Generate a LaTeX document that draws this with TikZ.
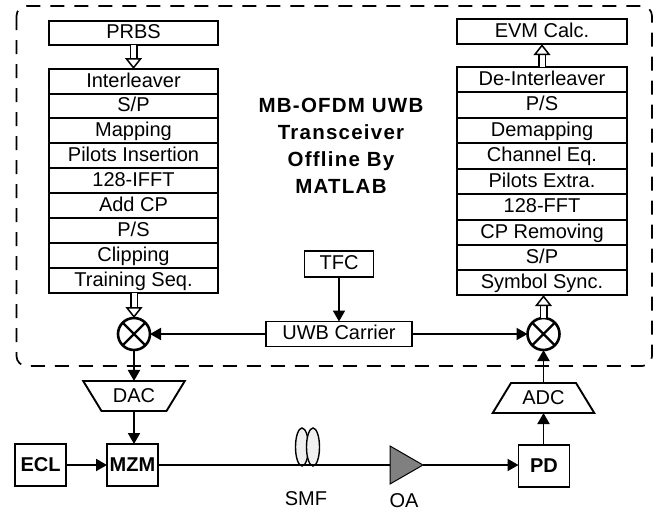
\documentclass[tikz,border=0pt]{standalone}
\usepackage{fontspec}
\setmainfont{Liberation Sans}
\newfontfamily\titlefont[LetterSpace=6,BoldFont={Liberation Sans Bold}]{Liberation Sans}
\usetikzlibrary{arrows.meta,shapes.geometric,calc}
\tikzset{
  x=1pt,y=-1pt,
  every node/.style={font=\fontsize{20}{22}\selectfont,inner sep=0pt,outer sep=0pt},
  box/.style={draw=black,line width=1.9pt,minimum width=#1,text height=14pt,text depth=3pt},
  lrow/.style={box=169pt,minimum height=25pt},
  rrow/.style={box=170pt,minimum height=25.4pt},
  bold box/.style={draw=black,line width=1.9pt,minimum width=51pt,minimum height=42pt,font=\fontsize{20}{22}\selectfont\bfseries},
  conv/.style={draw=black,line width=1.9pt,fill=white,trapezium,trapezium stretches=true,minimum width=102pt,minimum height=30pt,trapezium angle=50},
  mixer/.style={circle,draw=black,line width=2.6pt,minimum size=32pt,path picture={
    \draw[line width=2.4pt] (path picture bounding box.north west)--(path picture bounding box.south east)
      (path picture bounding box.north east)--(path picture bounding box.south west);}},
  wire/.style={line width=1.9pt,-{Triangle[length=11pt,width=12pt]}},
  hollow/.style={double,double distance=5pt,line width=1.5pt,-{Triangle[open,length=11pt,width=17pt,fill=white]}},
  fiber/.style={ellipse,draw=black,line width=1.4pt,fill=black!6,minimum width=13pt,minimum height=38pt},
}
\begin{document}
\begin{tikzpicture}
\useasboundingbox (0,0) rectangle (656,514);
\draw[line width=1.7pt,dash pattern=on 14pt off 10pt,rounded corners=10pt] (16.5,6) rectangle (652,366);
% left stack
\node[lrow,minimum height=24pt] (prbs) at (133.5,33) {PRBS};
\node[lrow] (il) at (133.5,81.5) {Interleaver};
\node[lrow] (sp) at (133.5,106) {S/P};
\node[lrow] (map) at (133.5,130.5) {Mapping};
\node[lrow] (pil) at (133.5,155.5) {Pilots Insertion};
\node[lrow] (ifft) at (133.5,180.5) {128-IFFT};
\node[lrow] (cp) at (133.5,205.5) {Add CP};
\node[lrow] (ps) at (133.5,230.5) {P/S};
\node[lrow] (clip) at (133.5,255.5) {Clipping};
\node[lrow] (train) at (133.5,280.5) {Training Seq.};
% right stack
\node[rrow] (evm) at (542,31.5) {EVM Calc.};
\node[rrow] (dil) at (542,79.5) {De-Interleaver};
\node[rrow] (rps) at (542,105) {P/S};
\node[rrow] (dem) at (542,130.5) {Demapping};
\node[rrow] (ch) at (542,156) {Channel Eq.};
\node[rrow] (pex) at (542,181.5) {Pilots Extra.};
\node[rrow] (fft) at (542,207) {128-FFT};
\node[rrow] (crm) at (542,232.5) {CP Removing};
\node[rrow] (rsp) at (542,257.5) {S/P};
\node[rrow] (sync) at (542,282.5) {Symbol Sync.};
% title
\node[align=center,font=\fontsize{20.5}{27}\titlefont\bfseries] (title) at (341,146) {MB-OFDM UWB\\Transceiver\\Offline By\\MATLAB};
% carrier
\node[box=69pt,minimum height=26pt] (tfc) at (339,264) {TFC};
\node[box=146pt,minimum height=25pt] (uwb) at (339,334) {UWB Carrier};
\node[mixer] (mixl) at (134,334) {};
\node[mixer] (mixr) at (543.5,334) {};
% converters
\node[conv,shape border rotate=180] (dac) at (134,396) {DAC};
\node[conv] (adc) at (543.5,398) {ADC};
% optical
\node[bold box] (ecl) at (40.5,465) {ECL};
\node[bold box] (mzm) at (132.5,465) {MZM};
\node[bold box] (pd) at (544,466) {PD};
\node[fiber] (f1) at (302,447) {};
\node[fiber] (f2) at (313,447) {};
\node[isosceles triangle,isosceles triangle apex angle=60,isosceles triangle stretches,draw=black,line width=1pt,fill=black!50,minimum width=38pt,minimum height=33pt,anchor=lower side,shape border uses incircle=false] (oa) at (390,465) {};
\node (smf) at (306,499) {SMF};
\node (oal) at (404,501) {OA};
% connectors
\draw[hollow] (prbs) -- (il);
\draw[hollow] (dil) -- (evm);
\draw[hollow] (train.south -| mixl) -- (mixl);
\draw[hollow] (mixr) -- (mixr |- sync.south);
\draw[wire] (tfc) -- (uwb);
\draw[wire] (uwb) -- (mixl);
\draw[wire] (uwb) -- (mixr);
\draw[wire] (mixl) -- (dac);
\draw[wire] (dac.south -| mixl) -- (mzm.north -| mixl);
\draw[wire] (ecl) -- (mzm);
\draw[wire] (adc) -- (mixr);
\draw[wire] (pd.north -| adc) -- (adc);
\draw[line width=1.9pt] (mzm) -- (oa.lower side);
\draw[wire] (oa.apex) -- (oa.apex -| pd.west);
\end{tikzpicture}
\end{document}
